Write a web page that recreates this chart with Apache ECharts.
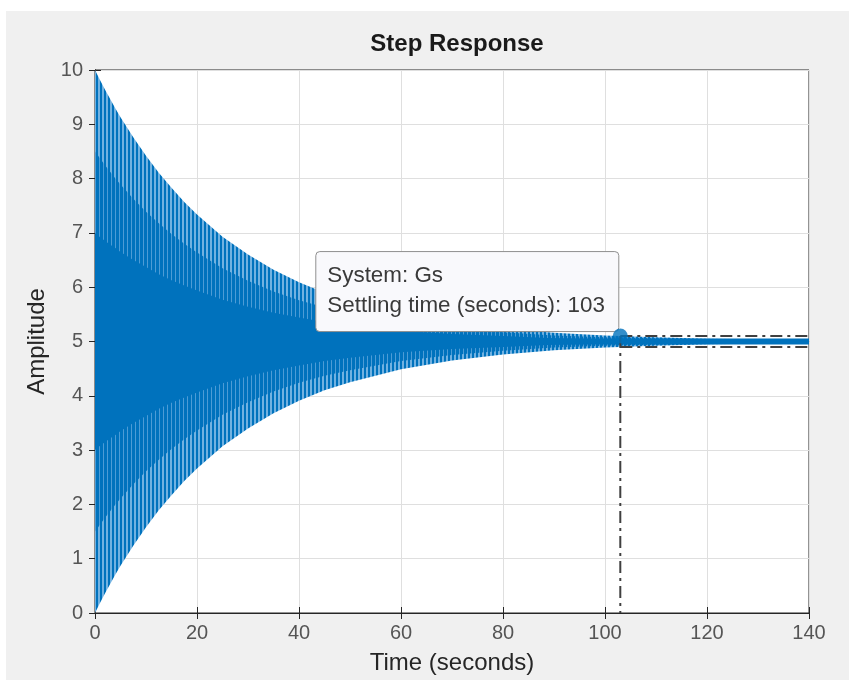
<!DOCTYPE html>
<html>
<head>
<meta charset="utf-8">
<script src="https://cdn.jsdelivr.net/npm/echarts@6/dist/echarts.min.js"></script>
<style>
  html, body { margin: 0; padding: 0; background: #ffffff; }
  #wrap { position: relative; width: 849px; height: 680px; overflow: hidden; }
  #bg { position: absolute; left: 6px; top: 11px; right: 0; bottom: 0; background: #f0f0f0; }
  #chart { position: absolute; left: 0; top: 0; width: 849px; height: 680px; }
</style>
</head>
<body>
<div id="wrap"><div id="bg"></div><div id="chart"></div></div>
<script>
// ---- data ----
const times      = [0, 1, 2, 3, 4, 5, 7.5, 10, 12.5, 15, 17.5, 20, 25, 30, 35, 40, 45, 50, 60, 70, 80, 90, 100, 110, 120, 130, 140];
// outer envelope of the oscillation (peaks / troughs)
const upperEnv   = [10, 9.81, 9.63, 9.46, 9.29, 9.13, 8.76, 8.42, 8.11, 7.83, 7.57, 7.34, 6.93, 6.60, 6.32, 6.09, 5.90, 5.75, 5.51, 5.35, 5.24, 5.16, 5.11, 5.08, 5.05, 5.04, 5.02];
const lowerEnv   = [0, 0.19, 0.37, 0.54, 0.71, 0.87, 1.24, 1.58, 1.89, 2.17, 2.43, 2.66, 3.07, 3.40, 3.68, 3.91, 4.10, 4.25, 4.49, 4.65, 4.76, 4.84, 4.89, 4.92, 4.95, 4.96, 4.98];
// denser inner zone of the oscillation (mostly dark with light streaks)
const midUpper   = [8.50, 8.37, 8.24, 8.12, 8.00, 7.89, 7.63, 7.39, 7.18, 6.98, 6.80, 6.64, 6.35, 6.12, 5.92, 5.76, 5.63, 5.53, 5.36, 5.25, 5.17, 5.11, 5.08, 5.06, 5.04, 5.03, 5.01];
const midLower   = [1.50, 1.63, 1.76, 1.88, 2.00, 2.11, 2.37, 2.61, 2.82, 3.02, 3.20, 3.36, 3.65, 3.88, 4.08, 4.24, 4.37, 4.47, 4.64, 4.75, 4.83, 4.89, 4.92, 4.94, 4.96, 4.97, 4.99];
// fully overlapped (solid) core of the oscillation
const coreUpper  = [7.00, 6.92, 6.85, 6.78, 6.72, 6.65, 6.50, 6.37, 6.24, 6.13, 6.03, 5.94, 5.77, 5.64, 5.53, 5.44, 5.36, 5.30, 5.20, 5.14, 5.10, 5.06, 5.04, 5.03, 5.02, 5.02, 5.01];
const coreLower  = [3.00, 3.08, 3.15, 3.22, 3.28, 3.35, 3.50, 3.63, 3.76, 3.87, 3.97, 4.06, 4.23, 4.36, 4.47, 4.56, 4.64, 4.70, 4.80, 4.86, 4.90, 4.94, 4.96, 4.97, 4.98, 4.98, 4.99];
const finalValue = 5;
const settlingTime = 103;
const settlingBand = [4.9, 5.1];
const tMax = 140;
const xTicks = [0, 20, 40, 60, 80, 100, 120, 140];
const yTicks = [0, 1, 2, 3, 4, 5, 6, 7, 8, 9, 10];
const tipLines = ['System: Gs', 'Settling time (seconds): 103'];

// ---- styling helpers ----
const FONT = "'Liberation Sans', Arial, Helvetica, sans-serif";
const BLUE = '#0072bd';
function stripePattern(light, darkW) {
  const c = document.createElement('canvas');
  c.width = 4; c.height = 4;
  const g = c.getContext('2d');
  g.fillStyle = light; g.fillRect(0, 0, 4, 4);
  g.fillStyle = BLUE; g.fillRect(0, 0, darkW, 4);
  return { image: c, repeat: 'repeat' };
}
const patOuter = stripePattern('#72b2e1', 2);
const patMid   = stripePattern('#4d9cd6', 3);

// band polygon between two envelope arrays, mapped through the axes
function bandSeries(name, hi, lo, fill, z) {
  return {
    type: 'custom', name, silent: true, z, clip: true,
    data: [[times[0], hi[0]]],
    encode: { x: 0, y: 1 },
    renderItem: (params, api) => {
      const pts = [];
      for (let i = 0; i < times.length; i++) pts.push(api.coord([times[i], hi[i]]));
      for (let i = times.length - 1; i >= 0; i--) pts.push(api.coord([times[i], lo[i]]));
      return { type: 'polygon', shape: { points: pts }, style: { fill, stroke: null } };
    }
  };
}

const dashDot = { color: '#404040', width: 2, type: [12, 5, 3, 5] };

const chart = echarts.init(document.getElementById('chart'), null, { renderer: 'canvas' });

chart.setOption({
  backgroundColor: 'transparent',
  animation: false,
  textStyle: { fontFamily: FONT },
  title: {
    text: 'Step Response', left: 452, top: 27, textAlign: 'center',
    textStyle: { fontFamily: FONT, fontSize: 24, fontWeight: 'bold', color: '#1a1a1a' }
  },
  grid: { left: 95, right: 40, top: 70, bottom: 65, show: true, backgroundColor: '#ffffff', borderColor: '#262626', borderWidth: 1 },
  xAxis: [{
    type: 'value', min: 0, max: tMax, interval: 20,
    name: 'Time (seconds)', nameLocation: 'middle', nameGap: 38,
    nameTextStyle: { fontFamily: FONT, fontSize: 24, color: '#262626' },
    axisLine: { show: true, lineStyle: { color: '#262626', width: 1 } },
    axisTick: { show: true, inside: true, length: 6, lineStyle: { color: '#262626' } },
    axisLabel: { fontFamily: FONT, fontSize: 20, color: '#555555', margin: 10,
      formatter: v => xTicks.includes(v) ? String(v) : '' },
    splitLine: { show: true, lineStyle: { color: '#dfdfdf', width: 1 } }
  }, {
    type: 'value', min: 0, max: tMax, interval: 20, position: 'top',
    axisLine: { show: true, lineStyle: { color: '#262626', width: 1 } },
    axisTick: { show: true, inside: true, length: 6, lineStyle: { color: '#262626' } },
    axisLabel: { show: false }, splitLine: { show: false }
  }],
  yAxis: [{
    type: 'value', min: 0, max: 10, interval: 1,
    name: 'Amplitude', nameLocation: 'middle', nameGap: 42, nameRotate: 90,
    nameTextStyle: { fontFamily: FONT, fontSize: 24, color: '#262626' },
    axisLine: { show: true, lineStyle: { color: '#262626', width: 1 } },
    axisTick: { show: true, inside: true, length: 6, lineStyle: { color: '#262626' } },
    axisLabel: { fontFamily: FONT, fontSize: 20, color: '#555555', margin: 12,
      formatter: v => yTicks.includes(v) ? String(v) : '' },
    splitLine: { show: true, lineStyle: { color: '#dfdfdf', width: 1 } }
  }, {
    type: 'value', min: 0, max: 10, interval: 1, position: 'right',
    axisLine: { show: true, lineStyle: { color: '#262626', width: 1 } },
    axisTick: { show: true, inside: true, length: 6, lineStyle: { color: '#262626' } },
    axisLabel: { show: false }, splitLine: { show: false }
  }],
  series: [
    bandSeries('envelope', upperEnv, lowerEnv, patOuter, 2),
    bandSeries('inner', midUpper, midLower, patMid, 3),
    bandSeries('core', coreUpper, coreLower, BLUE, 3),
    { type: 'line', name: 'final', showSymbol: false, symbol: 'none', silent: true, z: 4,
      data: [[0, finalValue], [tMax, finalValue]], lineStyle: { color: BLUE, width: 6 } },
    { type: 'line', name: 'bandHi', showSymbol: false, symbol: 'none', silent: true, z: 5,
      data: [[settlingTime, settlingBand[1]], [tMax, settlingBand[1]]], lineStyle: dashDot },
    { type: 'line', name: 'bandLo', showSymbol: false, symbol: 'none', silent: true, z: 5,
      data: [[settlingTime, settlingBand[0]], [tMax, settlingBand[0]]], lineStyle: dashDot },
    { type: 'line', name: 'settleV', showSymbol: false, symbol: 'none', silent: true, z: 5,
      data: [[settlingTime, settlingBand[1]], [settlingTime, 0]], lineStyle: dashDot },
    { // data tip box anchored at the settling point
      type: 'custom', name: 'datatip', silent: true, z: 8, clip: false,
      data: [[settlingTime, settlingBand[1]]],
      encode: { x: 0, y: 1 },
      renderItem: (params, api) => {
        const p = api.coord([api.value(0), api.value(1)]);
        const w = 303, h = 80;
        const x0 = p[0] - 2 - w, y0 = p[1] - 5 - h;
        return {
          type: 'group',
          children: [
            { type: 'rect', shape: { x: x0 + 0.5, y: y0 + 0.5, width: w, height: h, r: 4 },
              style: { fill: '#f9f9fc', stroke: '#8f8f8f', lineWidth: 1 } },
            { type: 'text', x: x0 + 12, y: y0 + 25,
              style: { text: tipLines[0], font: "22.4px " + FONT, fill: '#3a3a3a', textVerticalAlign: 'middle', textBaseline: 'middle' } },
            { type: 'text', x: x0 + 12, y: y0 + 55,
              style: { text: tipLines[1], font: "22.4px " + FONT, fill: '#3a3a3a', textVerticalAlign: 'middle', textBaseline: 'middle' } }
          ]
        };
      }
    },
    { type: 'scatter', name: 'marker', z: 10, silent: true,
      data: [[settlingTime, settlingBand[1]]], symbol: 'circle', symbolSize: 15,
      itemStyle: { color: BLUE } }
  ]
});
</script>
</body>
</html>
